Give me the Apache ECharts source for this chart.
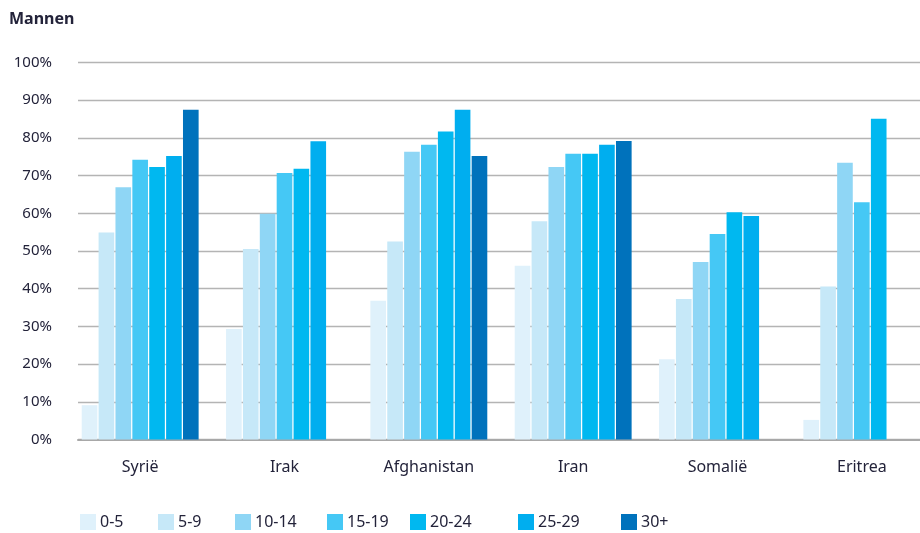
<!DOCTYPE html>
<html>
<head>
<meta charset="utf-8">
<script src="https://cdn.jsdelivr.net/npm/echarts@6/dist/echarts.min.js"></script>
<style>
html,body{margin:0;padding:0;background:#fff;}
#c{width:920px;height:533px;}
</style>
</head>
<body>
<div id="c"></div>
<script>
var categories = ['Syrië', 'Irak', 'Afghanistan', 'Iran', 'Somalië', 'Eritrea'];
var ageGroups = ['0-5', '5-9', '10-14', '15-19', '20-24', '25-29', '30+'];
var v0_5   = [9.1, 29.3, 36.8, 46.1, 21.3, 5.2];
var v5_9   = [54.9, 50.5, 52.5, 57.9, 37.3, 40.6];
var v10_14 = [66.9, 59.9, 76.3, 72.3, 47.1, 73.4];
var v15_19 = [74.2, 70.7, 78.2, 75.8, 54.5, 62.9];
var v20_24 = [72.3, 71.8, 81.7, 75.8, 60.3, 85.1];
var v25_29 = [75.2, 79.1, 87.5, 78.2, 59.3, null];
var v30    = [87.5, null, 75.2, 79.2, null, null];
var yTicks = [0, 10, 20, 30, 40, 50, 60, 70, 80, 90, 100];

var seriesValues = [v0_5, v5_9, v10_14, v15_19, v20_24, v25_29, v30];
var colors = ['#dff1fb', '#c6e8f8', '#8fd6f5', '#45c8f5', '#00b8f0', '#00aeef', '#0072bc'];
var legendLeft = [80, 158, 235, 327, 410, 518, 621];
var font = 'Noto Sans';
var textColor = '#23233a';

var chart = echarts.init(document.getElementById('c'), null, {renderer: 'canvas'});

var series = ageGroups.map(function (name, i) {
  return {
    name: name,
    type: 'bar',
    xAxisIndex: 1,
    yAxisIndex: 1,
    data: seriesValues[i],
    barGap: '8%',
    barCategoryGap: '19%',
    itemStyle: {color: colors[i]},
    emphasis: {disabled: true},
    animation: false
  };
});

var legends = ageGroups.map(function (name, i) {
  return {
    data: [name],
    left: legendLeft[i],
    top: 514,
    padding: 0,
    itemWidth: 16,
    itemHeight: 16,
    icon: 'rect',
    itemGap: 0,
    selectedMode: false,
    textStyle: {fontFamily: font, fontSize: 16, color: textColor, padding: [0, 0, 0, -1]}
  };
});

chart.setOption({
  animation: false,
  backgroundColor: '#fff',
  title: {
    text: 'Mannen',
    left: 9,
    top: 11,
    padding: 0,
    textStyle: {fontFamily: font, fontSize: 16, fontWeight: 'bold', color: textColor}
  },
  legend: legends,
  grid: [
    {left: 78, right: 0, top: 62.5, bottom: 93.5, outerBoundsMode: 'none'},
    {left: 68, right: -14, top: 62.5, bottom: 93.5, outerBoundsMode: 'none'}
  ],
  xAxis: [
    {
      type: 'category', gridIndex: 0, data: categories,
      axisLine: {show: true, lineStyle: {color: '#a8a8a8', width: 2}},
      axisTick: {show: false}, axisLabel: {show: false}, splitLine: {show: false}
    },
    {
      type: 'category', gridIndex: 1, data: categories,
      axisLine: {show: false}, axisTick: {show: false},
      axisLabel: {margin: 20, fontFamily: font, fontSize: 16, color: textColor}
    }
  ],
  yAxis: [
    {
      type: 'value', gridIndex: 0, min: yTicks[0], max: yTicks[yTicks.length - 1], interval: 10,
      axisLine: {show: false}, axisTick: {show: false},
      axisLabel: {margin: 26, fontFamily: font, fontSize: 15, color: textColor, formatter: '{value}%'},
      splitLine: {show: true, lineStyle: {color: '#b4b4b4', width: 1.3}}
    },
    {
      type: 'value', gridIndex: 1, min: yTicks[0], max: yTicks[yTicks.length - 1], interval: 10,
      show: false, splitLine: {show: false}
    }
  ],
  series: series
});
</script>
</body>
</html>
